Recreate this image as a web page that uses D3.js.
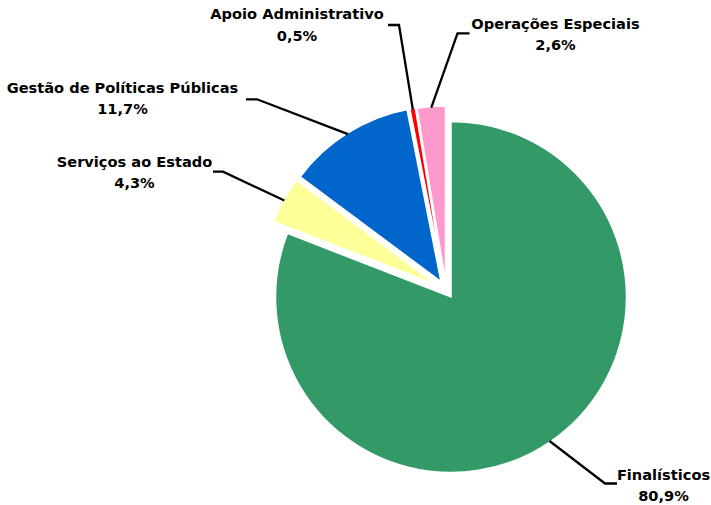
<!DOCTYPE html>
<html>
<head>
<meta charset="utf-8">
<script src="https://cdn.jsdelivr.net/npm/d3@7"></script>
<style>
  html, body { margin: 0; padding: 0; background: #fff; }
  svg { display: block; }
  .lbl { font-family: "DejaVu Sans", sans-serif; font-weight: bold; font-size: 14.6px; fill: #000; }
</style>
</head>
<body>
<svg id="chart" width="711" height="505"></svg>
<script>
// Budget shares by programme type (%)
const categories = [
  "Finalísticos",
  "Serviços ao Estado",
  "Gestão de Políticas Públicas",
  "Apoio Administrativo",
  "Operações Especiais"
];
const shares = [80.9, 4.3, 11.7, 0.5, 2.6];
const colors = ["#339966", "#FFFF99", "#0066CC", "#FF0000", "#FF99CC"];

// Layout
const W = 711, H = 505;
const cx = 451, cy = 297, R = 175.5;
// pull-out of each slice: distance (px) and bearing (deg, clockwise from north)
const explode = [
  { d: 0,    b: 0 },
  { d: 18.4, b: 310.6 },
  { d: 18.3, b: 326.8 },
  { d: 17.5, b: 336 },
  { d: 16.4, b: 340.5 }
];
// label placement: text centre x, first baseline y, leader end (ex, ey) and elbow x
const labelLayout = [
  { x: 663.5, y: 479.5, ex: 617, ey: 483.5, hx: 605 },
  { x: 134.5, y: 166.7, ex: 213, ey: 171.7, hx: 223 },
  { x: 122.5, y: 92.7,  ex: 246, ey: 99.3,  hx: 257 },
  { x: 297,   y: 19,    ex: 388, ey: 25,    hx: 399 },
  { x: 555.5, y: 28.5,  ex: 469.5, ey: 33.3, hx: 457.5 }
];
const lineGap = 21.5;

const ptBR = d3.formatLocale({ decimal: ",", thousands: ".", grouping: [3], currency: ["R$ ", ""] });
const fmtPct = v => ptBR.format(".1f")(v) + "%";

const data = categories.map((c, i) => ({ name: c, value: shares[i], color: colors[i], i }));

const pie = d3.pie().sort(null).value(d => d.value).startAngle(0).endAngle(2 * Math.PI);
const arc = d3.arc().innerRadius(0).outerRadius(R);
const arcs = pie(data);

const svg = d3.select("#chart");

arcs.forEach(a => {
  const ex = explode[a.data.i];
  const b = ex.b * Math.PI / 180;
  a.ox = cx + Math.sin(b) * ex.d;
  a.oy = cy - Math.cos(b) * ex.d;
  a.mid = (a.startAngle + a.endAngle) / 2;
});

// slices
svg.append("g").selectAll("path")
  .data(arcs)
  .join("path")
  .attr("transform", d => `translate(${d.ox},${d.oy})`)
  .attr("d", arc)
  .attr("fill", d => d.data.color)
  .attr("stroke", "#fff")
  .attr("stroke-width", 1.5)
  .attr("stroke-linejoin", "miter");

// leader lines
svg.append("g").selectAll("polyline")
  .data(arcs)
  .join("polyline")
  .attr("points", d => {
    const L = labelLayout[d.data.i];
    const px = d.ox + Math.sin(d.mid) * (R - 1);
    const py = d.oy - Math.cos(d.mid) * (R - 1);
    return [[px, py], [L.hx, L.ey], [L.ex, L.ey]].map(p => p.join(",")).join(" ");
  })
  .attr("fill", "none")
  .attr("stroke", "#000")
  .attr("stroke-width", 2.3)
  .attr("stroke-linejoin", "miter");

// labels
const lg = svg.append("g").selectAll("text")
  .data(arcs)
  .join("text")
  .attr("class", "lbl")
  .attr("text-anchor", "middle");
lg.append("tspan")
  .attr("x", d => labelLayout[d.data.i].x)
  .attr("y", d => labelLayout[d.data.i].y)
  .text(d => d.data.name);
lg.append("tspan")
  .attr("x", d => labelLayout[d.data.i].x)
  .attr("y", d => labelLayout[d.data.i].y + lineGap)
  .text(d => fmtPct(d.data.value));
</script>
</body>
</html>
